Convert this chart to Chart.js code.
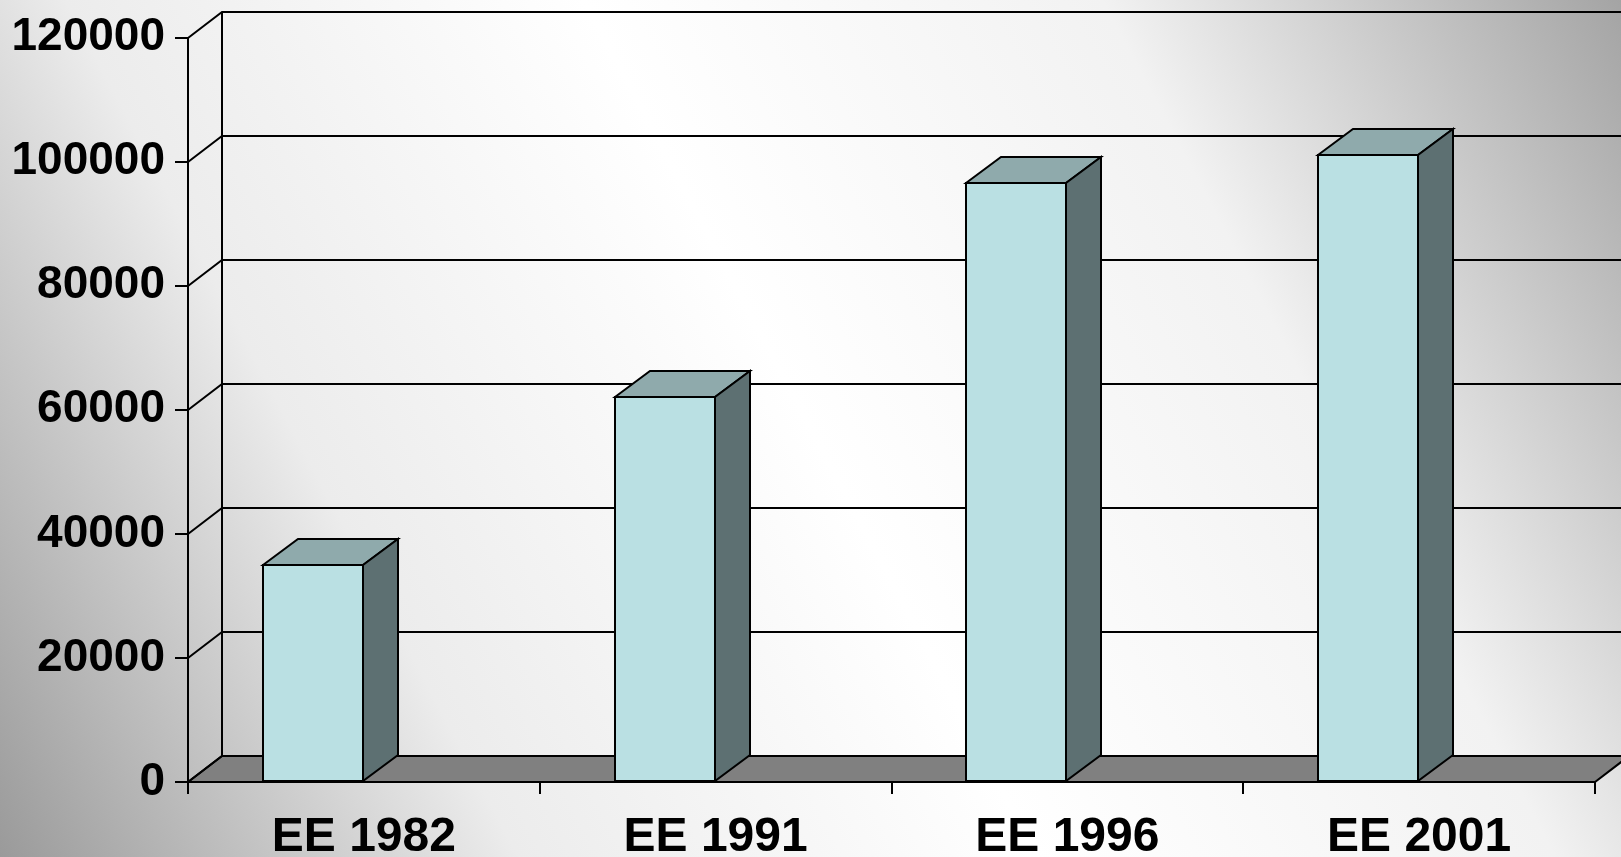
<!DOCTYPE html>
<html>
<head>
<meta charset="utf-8">
<title>EE</title>
<script src="https://cdn.jsdelivr.net/npm/chart.js@4.4.1/dist/chart.umd.min.js"></script>
<style>
    html, body { margin: 0; padding: 0; overflow: hidden; background: #fff; }
    canvas { display: block; }
</style>
</head>
<body>
<canvas id="eeChart" width="1621" height="857"></canvas>
<script>
// data
var categories = ['EE 1982', 'EE 1991', 'EE 1996', 'EE 2001'];
var values = [35000, 62000, 96600, 101000];
var yTicks = [0, 20000, 40000, 60000, 80000, 100000, 120000];

// colours
var frontColor = '#BAE0E3';
var topColor = '#8FAAAC';
var sideColor = '#5D7072';
var floorColor = '#808080';

// 3D depth offsets (px)
var wallDepth = { dx: 34, dy: -26 };
var barDepth = { dx: 35, dy: -26 };
var barShift = -51;

var fontFamily = '"Liberation Sans", Arial, sans-serif';

var threeD = {
    id: 'threeD',
    beforeDraw: function (chart) {
        var ctx = chart.ctx;
        var w = chart.width, h = chart.height;

        // background gradient
        var g = ctx.createLinearGradient(0, h, w, 0);
        g.addColorStop(0, '#9a9a9a');
        g.addColorStop(0.25, '#ececec');
        g.addColorStop(0.5, '#ffffff');
        g.addColorStop(0.75, '#f2f2f2');
        g.addColorStop(1, '#a4a4a4');
        ctx.save();
        ctx.fillStyle = g;
        ctx.fillRect(0, 0, w, h);

        var xs = chart.scales.x, ys = chart.scales.y;
        var left = Math.round(xs.left), right = Math.round(xs.right);
        var y0 = Math.round(ys.getPixelForValue(yTicks[0]));
        var yTop = Math.round(ys.getPixelForValue(yTicks[yTicks.length - 1]));
        var dx = wallDepth.dx, dy = wallDepth.dy;

        ctx.strokeStyle = '#000';
        ctx.lineWidth = 2;
        ctx.lineJoin = 'miter';

        // floor
        ctx.beginPath();
        ctx.moveTo(left, y0);
        ctx.lineTo(left + dx, y0 + dy);
        ctx.lineTo(right + dx, y0 + dy);
        ctx.lineTo(right, y0);
        ctx.closePath();
        ctx.fillStyle = floorColor;
        ctx.fill();
        ctx.stroke();

        // grid lines on the side wall and back wall
        yTicks.forEach(function (v) {
            var py = Math.round(ys.getPixelForValue(v));
            ctx.beginPath();
            ctx.moveTo(left, py);
            ctx.lineTo(left + dx, py + dy);
            ctx.lineTo(w + 10, py + dy);
            ctx.stroke();
        });

        // back wall left edge
        ctx.beginPath();
        ctx.moveTo(left + dx, yTop + dy);
        ctx.lineTo(left + dx, y0 + dy);
        ctx.stroke();
        ctx.restore();
    },
    beforeDatasetsDraw: function (chart) {
        chart.ctx.save();
        chart.ctx.translate(barShift, 0);
    },
    afterDatasetsDraw: function (chart) {
        var ctx = chart.ctx;
        var dx = barDepth.dx, dy = barDepth.dy;
        ctx.strokeStyle = '#000';
        ctx.lineWidth = 2;
        ctx.lineJoin = 'miter';
        chart.getDatasetMeta(0).data.forEach(function (bar) {
            var p = bar.getProps(['x', 'y', 'base', 'width'], true);
            var x1 = Math.round(p.x - p.width / 2), x2 = Math.round(p.x + p.width / 2);
            var top = Math.round(p.y), base = Math.round(p.base);
            // top face
            ctx.beginPath();
            ctx.moveTo(x1, top);
            ctx.lineTo(x1 + dx, top + dy);
            ctx.lineTo(x2 + dx, top + dy);
            ctx.lineTo(x2, top);
            ctx.closePath();
            ctx.fillStyle = topColor;
            ctx.fill();
            ctx.stroke();
            // side face
            ctx.beginPath();
            ctx.moveTo(x2, top);
            ctx.lineTo(x2 + dx, top + dy);
            ctx.lineTo(x2 + dx, base + dy);
            ctx.lineTo(x2, base);
            ctx.closePath();
            ctx.fillStyle = sideColor;
            ctx.fill();
            ctx.stroke();
            // front face outline
            ctx.strokeRect(x1, top, x2 - x1, base - top);
        });
        ctx.restore();
    }
};

var ctx = document.getElementById('eeChart').getContext('2d');
var eeChart = new Chart(ctx, {
    type: 'bar',
    data: {
        labels: categories,
        datasets: [{
            data: values,
            backgroundColor: frontColor,
            borderColor: '#000',
            borderWidth: 0,
            barThickness: 100,
            clip: false
        }]
    },
    options: {
        responsive: false,
        animation: false,
        devicePixelRatio: 1,
        layout: { padding: { left: 0, top: 36, right: 26, bottom: 0 } },
        plugins: {
            legend: { display: false },
            tooltip: { enabled: false }
        },
        scales: {
            x: {
                offset: true,
                grid: { offset: true, drawOnChartArea: false, tickLength: 12, color: '#000', lineWidth: 2 },
                border: { display: true, color: '#000', width: 2 },
                ticks: {
                    color: '#000',
                    font: { family: fontFamily, size: 48, weight: 'bold' },
                    padding: 15,
                    maxRotation: 0,
                    autoSkip: false
                },
                afterFit: function (scale) { scale.height = 75; }
            },
            y: {
                min: yTicks[0],
                max: yTicks[yTicks.length - 1],
                afterBuildTicks: function (scale) {
                    scale.ticks = yTicks.map(function (v) { return { value: v }; });
                },
                grid: { drawOnChartArea: false, tickLength: 13, color: '#000', lineWidth: 2 },
                border: { display: true, color: '#000', width: 2 },
                ticks: {
                    color: '#000',
                    font: { family: fontFamily, size: 46, weight: 'bold' },
                    padding: 10,
                    callback: function (v) { return String(v); }
                },
                afterFit: function (scale) { scale.width = 188; }
            }
        }
    },
    plugins: [threeD]
});
</script>
</body>
</html>
